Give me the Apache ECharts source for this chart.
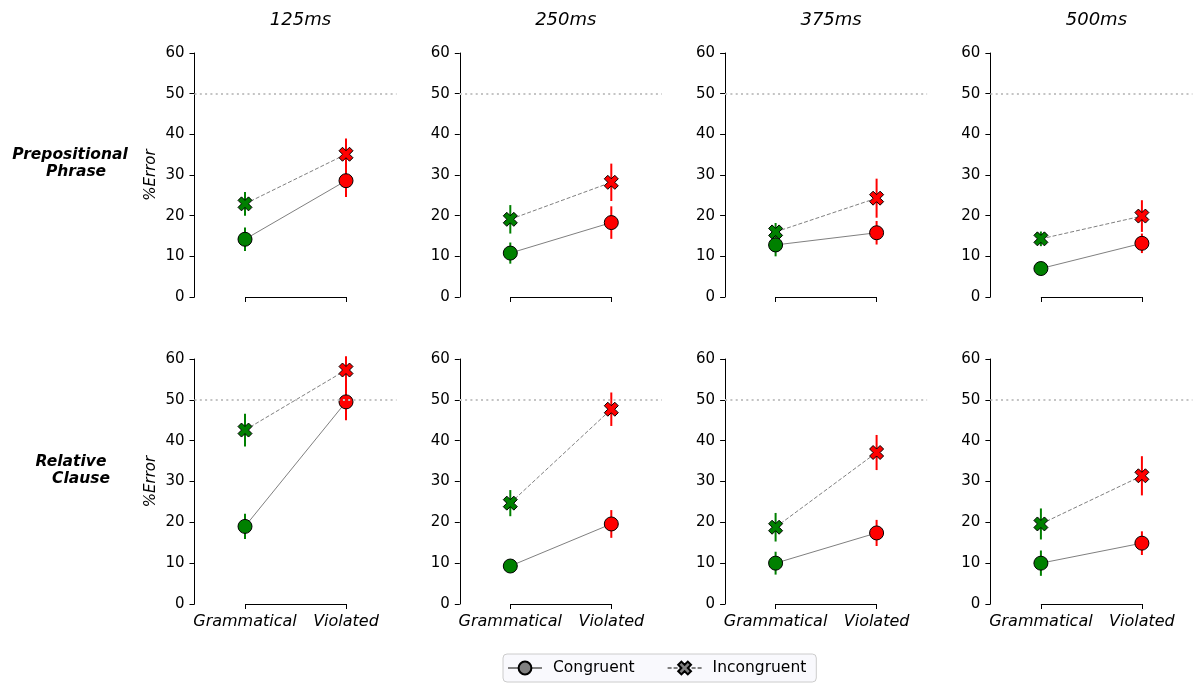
<!DOCTYPE html>
<html>
<head>
<meta charset="utf-8">
<script src="https://cdn.jsdelivr.net/npm/echarts@6/dist/echarts.min.js"></script>
<style>
  html, body { margin: 0; padding: 0; background: #ffffff; }
  #chart { width: 1196px; height: 684px; }
</style>
</head>
<body>
<div id="chart"></div>
<script>
// Stimulus onset asynchronies (columns) and sentence conditions (x categories)
const timings = ['125ms', '250ms', '375ms', '500ms'];
const conditions = ['Grammatical', 'Violated'];
const rowNames = [['Prepositional', 'Phrase'], ['Relative', 'Clause']];
const yTicks = [0, 10, 20, 30, 40, 50, 60];
const chanceLevel = 50;

// Prepositional Phrase: mean %Error [Grammatical, Violated] per timing
const ppCongruent = [[14.2, 28.6], [10.8, 18.3], [12.8, 15.8], [7.0, 13.2]];
const ppCongruentErr = [[2.9, 4.0], [2.6, 4.0], [2.8, 2.9], [1.2, 2.4]];
const ppIncongruent = [[22.9, 35.1], [19.1, 28.2], [16.0, 24.3], [14.3, 19.9]];
const ppIncongruentErr = [[2.9, 3.9], [3.5, 4.6], [2.2, 4.8], [1.8, 3.9]];

// Relative Clause: mean %Error [Grammatical, Violated] per timing
const rcCongruent = [[19.0, 49.5], [9.3, 19.6], [10.0, 17.4], [10.0, 14.9]];
const rcCongruentErr = [[3.1, 4.5], [1.0, 3.4], [2.8, 3.2], [3.1, 2.9]];
const rcIncongruent = [[42.6, 57.3], [24.7, 47.7], [18.8, 37.1], [19.6, 31.4]];
const rcIncongruentErr = [[4.0, 3.4], [3.2, 4.1], [3.5, 4.3], [3.8, 4.8]];

const rows = [
  { cong: ppCongruent, congErr: ppCongruentErr, inc: ppIncongruent, incErr: ppIncongruentErr },
  { cong: rcCongruent, congErr: rcCongruentErr, inc: rcIncongruent, incErr: rcIncongruentErr }
];

const FONT = 'DejaVu Sans';
const condColors = ['#008000', '#ff0000'];
const xMarker = 'path://M2.5,0 L5,2.5 L7.5,0 L10,2.5 L7.5,5 L10,7.5 L7.5,10 L5,7.5 L2.5,10 L0,7.5 L2.5,5 L0,2.5 Z';

const colLeft = [194.5, 459.8, 725.1, 990.4];
const gridW = 202;
const rowTop = [53, 359];
const rowH = [244, 245];

const grids = [], xAxes = [], yAxes = [], series = [], titles = [];

rows.forEach((row, r) => {
  timings.forEach((t, c) => {
    const i = r * timings.length + c;
    grids.push({ left: colLeft[c], top: rowTop[r], width: gridW, height: rowH[r] });

    xAxes.push({
      type: 'category', gridIndex: i, data: conditions, boundaryGap: true,
      axisLine: { show: false },
      axisTick: { show: true, alignWithLabel: true, interval: 0, length: 5, lineStyle: { color: '#000', width: 1 } },
      axisLabel: {
        show: r === 1, interval: 0, color: '#000', fontFamily: FONT, fontSize: 16, fontStyle: 'italic', margin: 10
      },
      splitLine: { show: false }
    });

    yAxes.push({
      type: 'value', gridIndex: i, min: yTicks[0], max: yTicks[yTicks.length - 1], interval: 10,
      name: c === 0 ? '%Error' : '', nameLocation: 'middle', nameGap: 36, nameRotate: 90,
      nameTextStyle: { color: '#000', fontFamily: FONT, fontSize: 15, fontStyle: 'italic' },
      axisLine: { show: true, lineStyle: { color: '#000', width: 1 } },
      axisTick: { show: true, length: 5, lineStyle: { color: '#000', width: 1 } },
      axisLabel: { color: '#000', fontFamily: FONT, fontSize: 15, margin: 10 },
      splitLine: { show: false }
    });

    if (r === 0) {
      titles.push({
        text: t, left: colLeft[c] + gridW / 2, top: 6, textAlign: 'center',
        textStyle: { fontFamily: FONT, fontSize: 18, fontStyle: 'italic', fontWeight: 'normal', color: '#000' }
      });
    }

    // chance line at 50% and the trimmed bottom spine
    series.push({
      type: 'line', xAxisIndex: i, yAxisIndex: i, data: [], silent: true, z: 1,
      markLine: {
        silent: true, symbol: ['none', 'none'], animation: false, label: { show: false },
        data: [
          { yAxis: chanceLevel, lineStyle: { color: '#c4c4c4', width: 2, type: [2, 3.3] } },
          [
            { coord: [conditions[0], 0], lineStyle: { color: '#000', width: 1, type: 'solid' } },
            { coord: [conditions[1], 0] }
          ]
        ]
      }
    });

    // error bars (mean ± error) for both congruency conditions
    const bars = [];
    [0, 1].forEach(k => {
      bars.push([k, row.cong[c][k], row.congErr[c][k]]);
      bars.push([k, row.inc[c][k], row.incErr[c][k]]);
    });
    series.push({
      type: 'custom', xAxisIndex: i, yAxisIndex: i, data: bars, z: 2, silent: true,
      encode: { x: 0, y: 1 },
      renderItem: function (params, api) {
        const k = api.value(0), m = api.value(1), e = api.value(2);
        const top = api.coord([k, m + e]);
        const bot = api.coord([k, m - e]);
        return {
          type: 'line',
          shape: { x1: top[0], y1: top[1], x2: bot[0], y2: bot[1] },
          style: { stroke: condColors[k], lineWidth: 2 }
        };
      }
    });

    const pts = vals => vals.map((v, k) => ({ value: v, itemStyle: { color: condColors[k] } }));

    series.push({
      name: 'Congruent', type: 'line', xAxisIndex: i, yAxisIndex: i, z: 3,
      data: pts(row.cong[c]),
      symbol: 'circle', symbolSize: 14,
      itemStyle: { color: '#808080', borderColor: '#000', borderWidth: 1 },
      lineStyle: { color: '#808080', width: 1 },
      animation: false
    });
    series.push({
      name: 'Incongruent', type: 'line', xAxisIndex: i, yAxisIndex: i, z: 4,
      data: pts(row.inc[c]),
      symbol: xMarker, symbolSize: 14, symbolKeepAspect: true,
      itemStyle: { color: '#808080', borderColor: '#000', borderWidth: 1 },
      lineStyle: { color: '#808080', width: 1, type: [4, 2] },
      animation: false
    });
  });
});

const rowLabelStyle = { fontFamily: FONT, fontSize: 15.5, fontWeight: 'bold', fontStyle: 'italic', fill: '#000', textAlign: 'center', textVerticalAlign: 'middle' };
const rowLabelPos = [[[70, 155], [76, 172]], [[71, 462], [81, 479]]];
const graphics = [];
rowNames.forEach((lines, r) => {
  lines.forEach((txt, j) => {
    graphics.push({
      type: 'text', x: rowLabelPos[r][j][0], y: rowLabelPos[r][j][1],
      style: Object.assign({ text: txt }, rowLabelStyle)
    });
  });
});

const chart = echarts.init(document.getElementById('chart'), null, { renderer: 'canvas' });
chart.setOption({
  backgroundColor: '#ffffff',
  animation: false,
  title: titles,
  grid: grids,
  xAxis: xAxes,
  yAxis: yAxes,
  series: series,
  graphic: graphics,
  legend: {
    data: ['Congruent', 'Incongruent'],
    left: 503, top: 654,
    padding: [6, 10, 6, 4],
    itemWidth: 34, itemHeight: 16, itemGap: 32,
    borderColor: '#cccccc', borderWidth: 1, borderRadius: 4,
    backgroundColor: '#f9f9fd',
    selectedMode: false,
    textStyle: { fontFamily: FONT, fontSize: 15.5, color: '#000', padding: [0, 0, 0, 6] }
  }
});
</script>
</body>
</html>
